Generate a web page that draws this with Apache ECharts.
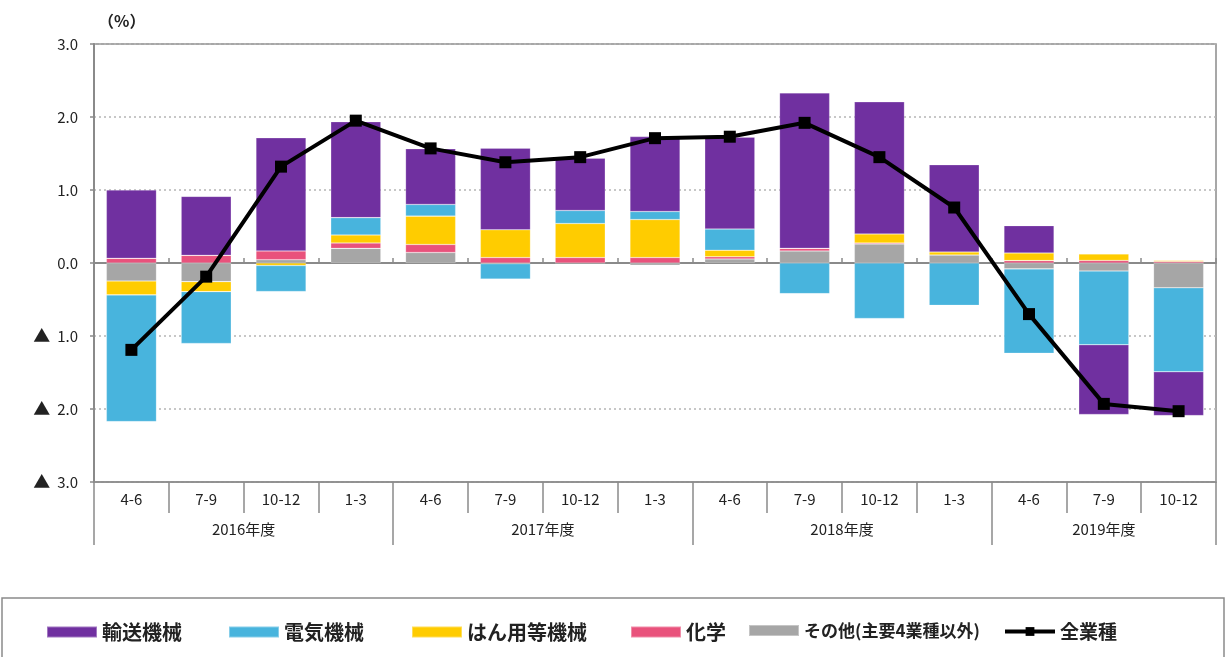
<!DOCTYPE html>
<html>
<head>
<meta charset="utf-8">
<script src="https://cdn.jsdelivr.net/npm/echarts@6/dist/echarts.min.js"></script>
<style>
html,body{margin:0;padding:0;background:#fff;}
#chart{width:1227px;height:657px;}
</style>
</head>
<body>
<div id="chart"></div>
<script>
// ---- data ----
const quarters = ['4-6','7-9','10-12','1-3','4-6','7-9','10-12','1-3','4-6','7-9','10-12','1-3','4-6','7-9','10-12'];
const fiscalYears = ['2016年度','2017年度','2018年度','2019年度'];
const fiscalYearCenters = [2, 6, 10, 13.5];
const fiscalYearBounds = [0, 4, 8, 12, 15];
const transport = [0.936, 0.808, 1.55, 1.315, 0.763, 1.118, 0.716, 1.027, 1.26, 2.13, 1.81, 1.196, 0.375, -0.955, -0.60];
const electric  = [-1.735, -0.71, -0.356, 0.237, 0.16, -0.21, 0.178, 0.11, 0.29, -0.42, -0.76, -0.58, -1.156, -1.01, -1.15];
const generalMachinery = [-0.19, -0.137, -0.035, 0.11, 0.388, 0.38, 0.466, 0.52, 0.09, 0, 0.123, 0.04, 0.104, 0.088, 0.014];
const chemical = [0.064, 0.105, 0.12, 0.074, 0.11, 0.075, 0.075, 0.075, 0.03, 0.037, 0.015, 0, 0.033, 0.035, 0.02];
const others   = [-0.247, -0.255, 0.045, 0.20, 0.144, -0.01, 0, -0.03, 0.055, 0.164, 0.26, 0.11, -0.08, -0.11, -0.34];
const allIndustries = [-1.19, -0.187, 1.32, 1.95, 1.57, 1.38, 1.45, 1.71, 1.73, 1.92, 1.45, 0.76, -0.70, -1.93, -2.03];
const legendNames = ['輸送機械', '電気機械', 'はん用等機械', '化学', 'その他(主要4業種以外)', '全業種'];
const yTicks = {min: -3, max: 3, interval: 1};

const FONT = '"Noto Sans CJK JP", "Noto Sans", sans-serif';
const AX = '#8a8a8a';
const TXT = '#222';

const chart = echarts.init(document.getElementById('chart'), null, {renderer: 'canvas'});

function barSeries(name, data, color) {
  return {
    name: name, type: 'bar', stack: 'total', data: data,
    xAxisIndex: 0, yAxisIndex: 0,
    barCategoryGap: '33%',
    itemStyle: {color: color, borderColor: 'rgba(255,255,255,0.35)', borderWidth: 0.6},
    emphasis: {disabled: true}
  };
}

const yearMap = {};
fiscalYearCenters.forEach((c, i) => { yearMap[c] = fiscalYears[i]; });

// one legend component per entry so each sits where the reference has it
const legendLefts = [46, 228, 411, 630, 748, 1003];
const legendFontSizes = [20, 20, 20, 20, 17, 19];
const legends = legendNames.map((n, i) => ({
  data: [n], left: legendLefts[i], top: 622, padding: 0,
  itemWidth: 50, itemHeight: 11, itemGap: 0,
  icon: i < 5 ? 'rect' : undefined,
  lineStyle: {width: 4},
  textStyle: {fontFamily: FONT, fontSize: legendFontSizes[i], color: TXT, fontWeight: 'bold'}
}));

chart.setOption({
  animation: false,
  backgroundColor: '#fff',
  title: {
    text: '（%）', left: 93, top: 8,
    textStyle: {fontFamily: FONT, fontSize: 16, fontWeight: 'bold', color: TXT}
  },
  grid: {
    left: 94, right: 11, top: 44, bottom: 175,
    show: true, borderColor: AX, borderWidth: 1.5, backgroundColor: 'transparent'
  },
  legend: legends,
  graphic: [{
    type: 'rect', silent: true,
    shape: {x: 2, y: 598, width: 1222, height: 70},
    style: {fill: 'none', stroke: AX, lineWidth: 1.5}
  }],
  xAxis: [
    {
      type: 'category', data: quarters, position: 'bottom',
      axisLine: {onZero: true, lineStyle: {color: AX, width: 2}},
      axisTick: {show: true, inside: true, length: 5, interval: 0, lineStyle: {color: AX, width: 1.5}},
      axisLabel: {show: false},
      splitLine: {show: false}
    },
    {
      type: 'category', data: quarters, position: 'bottom',
      axisLine: {onZero: false, show: true, lineStyle: {color: AX, width: 1.5}},
      axisTick: {show: true, length: 31, interval: 0, lineStyle: {color: AX, width: 1.5}},
      axisLabel: {show: true, interval: 0, margin: 10, fontFamily: FONT, fontSize: 15, color: TXT},
      splitLine: {show: false}
    },
    {
      type: 'value', min: 0, max: 15, position: 'bottom',
      axisLine: {onZero: false, show: false},
      axisTick: {show: true, length: 63, customValues: fiscalYearBounds, lineStyle: {color: AX, width: 1.5}},
      axisLabel: {show: true, customValues: fiscalYearCenters, margin: 40, fontFamily: FONT, fontSize: 15, color: TXT,
        formatter: function (v) { return yearMap[v] || ''; }},
      splitLine: {show: false}
    }
  ],
  yAxis: {
    type: 'value', min: yTicks.min, max: yTicks.max, interval: yTicks.interval,
    axisLine: {show: true, onZero: false, lineStyle: {color: AX, width: 2}},
    axisTick: {show: true, length: 4, lineStyle: {color: AX, width: 1.5}},
    axisLabel: {
      margin: 16, fontFamily: FONT, fontSize: 15, color: TXT,
      formatter: function (v) { return v < 0 ? '{t|▲}' + Math.abs(v).toFixed(1) : v.toFixed(1); },
      rich: {t: {fontFamily: FONT, fontSize: 17, color: TXT, padding: [0, 7, 0, 0]}}
    },
    splitLine: {show: true, lineStyle: {color: '#b5b5b5', type: [2, 3], width: 1.5}}
  },
  series: [
    barSeries('その他(主要4業種以外)', others, '#A6A6A6'),
    barSeries('化学', chemical, '#E9527C'),
    barSeries('はん用等機械', generalMachinery, '#FFCC00'),
    barSeries('電気機械', electric, '#48B4DD'),
    barSeries('輸送機械', transport, '#7030A0'),
    {
      name: '全業種', type: 'line', data: allIndustries, z: 5,
      xAxisIndex: 0, yAxisIndex: 0,
      color: '#000',
      lineStyle: {color: '#000', width: 4},
      itemStyle: {color: '#000'},
      symbol: 'rect', symbolSize: 12, showSymbol: true,
      emphasis: {disabled: true}
    }
  ]
});
</script>
</body>
</html>
